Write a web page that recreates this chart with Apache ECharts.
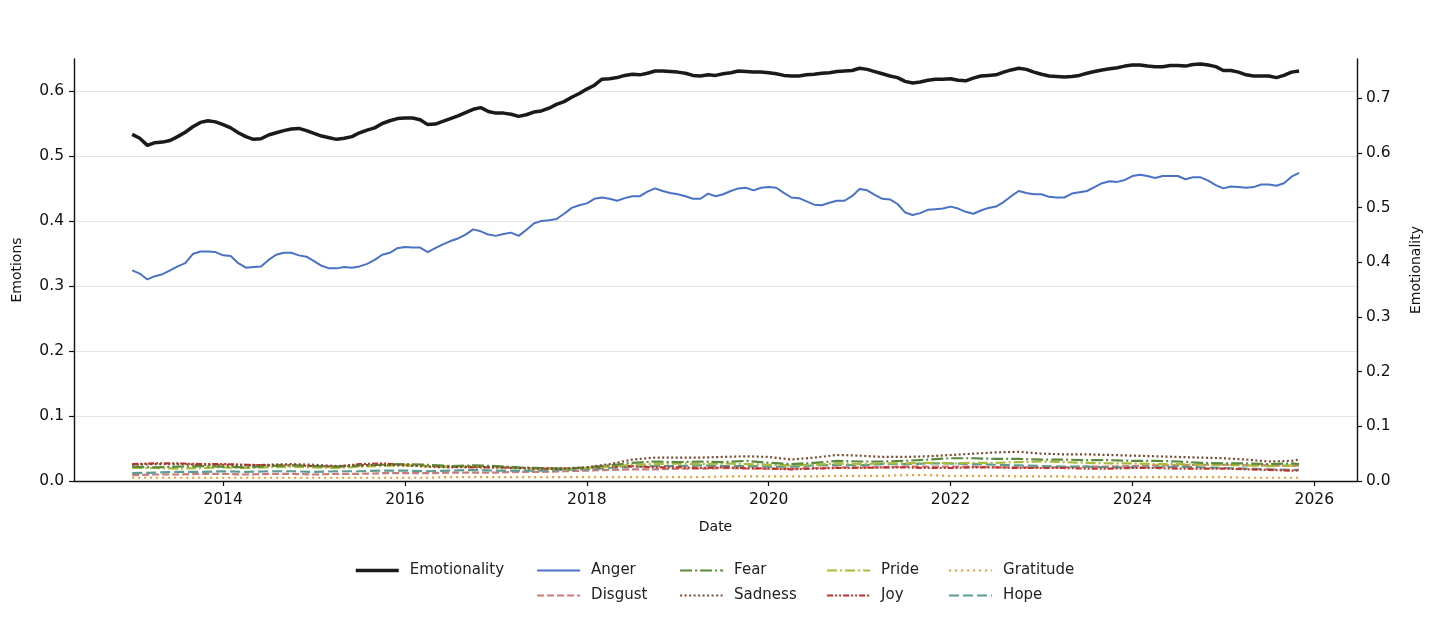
<!DOCTYPE html>
<html>
<head>
<meta charset="utf-8">
<title>Emotions</title>
<script src="https://cdn.jsdelivr.net/npm/echarts@6/dist/echarts.min.js"></script>
<style>
  html, body { margin: 0; padding: 0; background: #fff; }
  #chart { width: 1456px; height: 632px; }
</style>
</head>
<body>
<div id="chart"></div>
<script>
// monthly series, Jan 2013 .. Nov 2025 (155 months)
var startYear = 2013;
var emotionality = [
  0.634, 0.627, 0.614, 0.619, 0.620, 0.623, 0.630, 0.638, 0.648, 0.656, 0.659, 0.657,
  0.652, 0.646, 0.637, 0.630, 0.625, 0.626, 0.633, 0.637, 0.641, 0.644, 0.645, 0.641,
  0.636, 0.631, 0.628, 0.625, 0.627, 0.630, 0.637, 0.642, 0.646, 0.654, 0.659, 0.663,
  0.664, 0.664, 0.661, 0.652, 0.653, 0.658, 0.663, 0.668, 0.674, 0.680, 0.683, 0.676,
  0.673, 0.673, 0.671, 0.667, 0.670, 0.675, 0.677, 0.682, 0.689, 0.694, 0.702, 0.709,
  0.717, 0.724, 0.735, 0.736, 0.738, 0.742, 0.744, 0.743, 0.746, 0.750, 0.750, 0.749,
  0.748, 0.746, 0.742, 0.741, 0.743, 0.742, 0.745, 0.747, 0.750, 0.749, 0.748, 0.748,
  0.747, 0.745, 0.742, 0.741, 0.741, 0.743, 0.744, 0.746, 0.747, 0.749, 0.750, 0.751,
  0.755, 0.753, 0.749, 0.745, 0.741, 0.738, 0.731, 0.728, 0.730, 0.733, 0.735, 0.735,
  0.736, 0.733, 0.732, 0.737, 0.741, 0.742, 0.743, 0.748, 0.752, 0.755, 0.753, 0.748,
  0.744, 0.741, 0.740, 0.739, 0.740, 0.742, 0.746, 0.749, 0.752, 0.754, 0.756, 0.759,
  0.761, 0.761, 0.759, 0.758, 0.758, 0.760, 0.760, 0.759, 0.762, 0.763, 0.761, 0.758,
  0.751, 0.751, 0.748, 0.743, 0.741, 0.741, 0.741, 0.738, 0.742, 0.748, 0.750
];
var anger = [
  0.324, 0.319, 0.310, 0.315, 0.318, 0.324, 0.330, 0.335, 0.349, 0.353, 0.353, 0.352,
  0.347, 0.346, 0.335, 0.328, 0.329, 0.330, 0.340, 0.348, 0.351, 0.351, 0.347, 0.345,
  0.338, 0.331, 0.327, 0.327, 0.329, 0.328, 0.330, 0.334, 0.340, 0.348, 0.351, 0.358,
  0.360, 0.359, 0.359, 0.352, 0.358, 0.364, 0.369, 0.373, 0.379, 0.387, 0.384, 0.379,
  0.377, 0.380, 0.382, 0.377, 0.386, 0.396, 0.400, 0.401, 0.403, 0.411, 0.420, 0.424,
  0.427, 0.434, 0.436, 0.434, 0.431, 0.435, 0.438, 0.438, 0.445, 0.450, 0.446, 0.443,
  0.441, 0.438, 0.434, 0.434, 0.442, 0.438, 0.441, 0.446, 0.450, 0.451, 0.447, 0.451,
  0.452, 0.451, 0.443, 0.436, 0.435, 0.430, 0.425, 0.424, 0.428, 0.431, 0.431, 0.438,
  0.449, 0.447, 0.440, 0.434, 0.433, 0.426, 0.413, 0.409, 0.412, 0.417, 0.418, 0.419,
  0.422, 0.419, 0.414, 0.411, 0.416, 0.420, 0.422, 0.429, 0.438, 0.446, 0.443, 0.441,
  0.441, 0.437, 0.436, 0.436, 0.442, 0.444, 0.446, 0.452, 0.458, 0.461, 0.460, 0.463,
  0.469, 0.471, 0.469, 0.466, 0.469, 0.469, 0.469, 0.464, 0.467, 0.467, 0.462, 0.455,
  0.450, 0.453, 0.452, 0.451, 0.452, 0.456, 0.456, 0.454, 0.458, 0.468, 0.474
];

// quarterly readings for the small emotions (Jan 2013 .. Oct 2025, then Nov 2025)
var disgust = [
  0.009, 0.010, 0.010, 0.011, 0.011, 0.010, 0.011, 0.011, 0.010, 0.011, 0.011, 0.012,
  0.012, 0.012, 0.013, 0.013, 0.013, 0.014, 0.014, 0.015, 0.016, 0.017, 0.018, 0.018,
  0.019, 0.019, 0.020, 0.019, 0.019, 0.019, 0.020, 0.021, 0.021, 0.021, 0.022, 0.022,
  0.022, 0.022, 0.021, 0.021, 0.021, 0.021, 0.022, 0.022, 0.023, 0.024, 0.024, 0.025,
  0.025, 0.024, 0.024, 0.023, 0.024
];
var fear = [
  0.022, 0.021, 0.022, 0.023, 0.022, 0.021, 0.023, 0.024, 0.023, 0.022, 0.024, 0.025,
  0.026, 0.025, 0.023, 0.024, 0.023, 0.021, 0.020, 0.019, 0.021, 0.024, 0.028, 0.030,
  0.029, 0.030, 0.029, 0.031, 0.028, 0.026, 0.028, 0.031, 0.030, 0.030, 0.031, 0.033,
  0.035, 0.035, 0.034, 0.034, 0.033, 0.033, 0.032, 0.032, 0.031, 0.031, 0.030, 0.028,
  0.027, 0.027, 0.026, 0.027, 0.026
];
var sadness = [
  0.025, 0.026, 0.026, 0.025, 0.025, 0.024, 0.025, 0.026, 0.025, 0.023, 0.024, 0.025,
  0.024, 0.022, 0.021, 0.022, 0.021, 0.020, 0.019, 0.019, 0.021, 0.026, 0.033, 0.036,
  0.036, 0.036, 0.037, 0.038, 0.037, 0.033, 0.036, 0.040, 0.039, 0.037, 0.037, 0.038,
  0.040, 0.042, 0.044, 0.045, 0.042, 0.041, 0.041, 0.040, 0.039, 0.038, 0.037, 0.036,
  0.035, 0.033, 0.030, 0.031, 0.033
];
var pride = [
  0.020, 0.020, 0.019, 0.020, 0.021, 0.020, 0.021, 0.022, 0.021, 0.020, 0.022, 0.023,
  0.024, 0.023, 0.022, 0.023, 0.022, 0.020, 0.019, 0.018, 0.020, 0.022, 0.025, 0.026,
  0.027, 0.026, 0.027, 0.026, 0.025, 0.024, 0.025, 0.027, 0.026, 0.027, 0.027, 0.028,
  0.027, 0.028, 0.028, 0.029, 0.030, 0.029, 0.028, 0.027, 0.027, 0.026, 0.026, 0.025,
  0.025, 0.024, 0.023, 0.024, 0.023
];
var joy = [
  0.026, 0.027, 0.027, 0.026, 0.026, 0.025, 0.024, 0.024, 0.023, 0.022, 0.026, 0.027,
  0.025, 0.023, 0.022, 0.021, 0.021, 0.020, 0.019, 0.019, 0.020, 0.022, 0.023, 0.021,
  0.021, 0.020, 0.021, 0.020, 0.019, 0.018, 0.019, 0.020, 0.020, 0.021, 0.021, 0.020,
  0.020, 0.021, 0.021, 0.020, 0.020, 0.020, 0.019, 0.019, 0.020, 0.020, 0.019, 0.019,
  0.019, 0.018, 0.017, 0.016, 0.016
];
var gratitude = [
  0.005, 0.005, 0.005, 0.005, 0.005, 0.005, 0.005, 0.005, 0.005, 0.005, 0.005, 0.005,
  0.005, 0.005, 0.006, 0.006, 0.006, 0.006, 0.006, 0.006, 0.006, 0.006, 0.006, 0.006,
  0.006, 0.006, 0.007, 0.007, 0.007, 0.007, 0.007, 0.008, 0.008, 0.008, 0.009, 0.009,
  0.008, 0.008, 0.008, 0.007, 0.007, 0.007, 0.006, 0.006, 0.006, 0.006, 0.006, 0.006,
  0.006, 0.005, 0.005, 0.005, 0.005
];
var hope = [
  0.012, 0.013, 0.014, 0.014, 0.015, 0.014, 0.015, 0.015, 0.014, 0.015, 0.015, 0.016,
  0.016, 0.015, 0.016, 0.017, 0.016, 0.016, 0.016, 0.017, 0.018, 0.020, 0.022, 0.023,
  0.023, 0.024, 0.023, 0.023, 0.022, 0.022, 0.024, 0.025, 0.024, 0.026, 0.026, 0.027,
  0.027, 0.026, 0.025, 0.024, 0.023, 0.022, 0.022, 0.021, 0.021, 0.021, 0.022, 0.021,
  0.020, 0.019, 0.018, 0.017, 0.017
];

var yearTicks = [2014, 2016, 2018, 2020, 2022, 2024, 2026];
var leftTicks = [0, 0.1, 0.2, 0.3, 0.4, 0.5, 0.6];
var rightTicks = [0, 0.1, 0.2, 0.3, 0.4, 0.5, 0.6, 0.7];

// month index -> decimal year
function monthlyPairs(values) {
  return values.map(function(v, i) { return [startYear + i / 12, v]; });
}
function quarterlyPairs(values) {
  return values.map(function(v, k) {
    var m = (k < values.length - 1) ? k * 3 : 154;
    return [startYear + m / 12, v];
  });
}

var font = 'DejaVu Sans';

function line(name, data, color, width, type, yIdx) {
  return {
    name: name,
    type: 'line',
    yAxisIndex: yIdx,
    data: data,
    showSymbol: false,
    symbol: 'none',
    smooth: false,
    animation: false,
    lineStyle: { color: color, width: width, type: type, cap: 'butt' },
    itemStyle: { color: color }
  };
}

function legendCol(left, names) {
  return {
    orient: 'vertical',
    left: left,
    top: 558,
    itemWidth: 43,
    itemHeight: 14,
    itemGap: 10,
    itemStyle: { opacity: 0 },
    lineStyle: { width: 'inherit' },
    textStyle: { fontFamily: font, fontSize: 15, color: '#222', padding: [0, 0, 0, 6] },
    selectedMode: false,
    data: names
  };
}

var chart = echarts.init(document.getElementById('chart'));
var option = {
  backgroundColor: '#fff',
  animation: false,
  grid: { left: 74, right: 99, top: 59, bottom: 151, containLabel: false },
  legend: [
    legendCol(349, ['Emotionality']),
    legendCol(531, ['Anger', 'Disgust']),
    legendCol(674, ['Fear', 'Sadness']),
    legendCol(821, ['Pride', 'Joy']),
    legendCol(943, ['Gratitude', 'Hope'])
  ],
  xAxis: {
    type: 'value',
    min: 2012.36,
    max: 2026.47,
    name: 'Date',
    nameLocation: 'middle',
    nameGap: 39,
    nameTextStyle: { fontFamily: font, fontSize: 14, color: '#111' },
    axisLine: { lineStyle: { color: '#111', width: 1.4 } },
    axisTick: { customValues: yearTicks, length: 5, lineStyle: { color: '#111', width: 1.2 } },
    axisLabel: { customValues: yearTicks, fontFamily: font, fontSize: 15.5, color: '#111', margin: 11,
      formatter: function(v) { return String(Math.round(v)); } },
    splitLine: { show: false }
  },
  yAxis: [
    {
      type: 'value',
      min: 0,
      max: 0.649,
      position: 'left',
      name: 'Emotions',
      nameLocation: 'middle',
      nameGap: 50,
      nameTextStyle: { fontFamily: font, fontSize: 14, color: '#111' },
      axisLine: { show: true, lineStyle: { color: '#111', width: 1.4 } },
      axisTick: { show: true, customValues: leftTicks, length: 5, lineStyle: { color: '#111', width: 1.2 } },
      axisLabel: { customValues: leftTicks, fontFamily: font, fontSize: 15.5, color: '#111', margin: 10,
        formatter: function(v) { return v.toFixed(1); } },
      splitLine: { show: true, lineStyle: { color: '#e4e4e4', width: 1 } }
    },
    {
      type: 'value',
      min: 0,
      max: 0.772,
      position: 'right',
      name: 'Emotionality',
      nameLocation: 'middle',
      nameGap: 52,
      nameTextStyle: { fontFamily: font, fontSize: 14, color: '#111' },
      axisLine: { show: true, lineStyle: { color: '#111', width: 1.4 } },
      axisTick: { show: true, customValues: rightTicks, length: 5, lineStyle: { color: '#111', width: 1.2 } },
      axisLabel: { customValues: rightTicks, fontFamily: font, fontSize: 15.5, color: '#111', margin: 9,
        formatter: function(v) { return v.toFixed(1); } },
      splitLine: { show: false }
    }
  ],
  series: [
    line('Gratitude', quarterlyPairs(gratitude), '#e59a2c', 2.2, [2, 4], 0),
    line('Disgust', quarterlyPairs(disgust), '#c97b7b', 2.2, [7, 3], 0),
    line('Hope', quarterlyPairs(hope), '#5c9b92', 2.2, [10, 4], 0),
    line('Joy', quarterlyPairs(joy), '#c3302a', 2.2, [6, 2, 2, 2, 2, 2], 0),
    line('Pride', quarterlyPairs(pride), '#aabb34', 2.2, [10, 3, 2, 3], 0),
    line('Fear', quarterlyPairs(fear), '#5a8a3c', 2.2, [12, 3, 2, 3], 0),
    line('Sadness', quarterlyPairs(sadness), '#7a4a2c', 2.2, [2, 2.5], 0),
    line('Anger', monthlyPairs(anger), '#4a72c4', 2, 'solid', 0),
    line('Emotionality', monthlyPairs(emotionality), '#1a1a1a', 3.5, 'solid', 1)
  ]
};
chart.setOption(option);
</script>
</body>
</html>
